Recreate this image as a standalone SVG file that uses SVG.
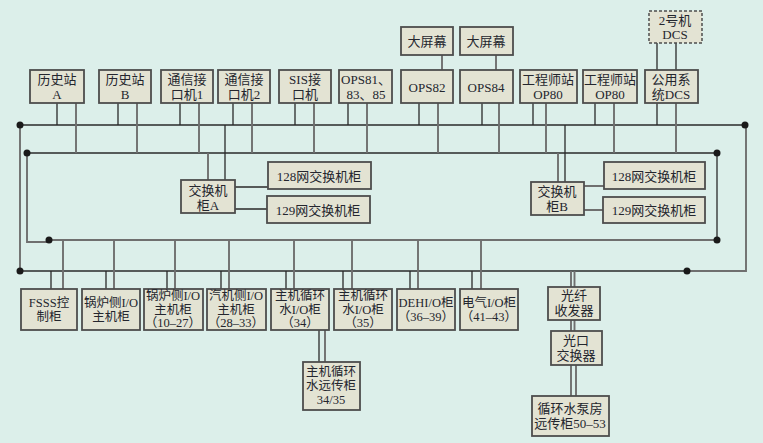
<svg xmlns="http://www.w3.org/2000/svg" width="763" height="443" viewBox="0 0 763 443">
<style>
.bg{fill:#dcefea}
.bx rect{fill:#e3e3d3;stroke:#4d4d4d;stroke-width:1.8}
.bx.dash rect{stroke-dasharray:3 2;stroke-width:1.5}
text{font-family:"Liberation Serif","Noto Sans CJK SC",serif;font-size:13px;fill:#24262e;text-anchor:middle}
.sm text{font-size:12.5px}
.k{stroke:#2a2a2a;stroke-width:1.3;fill:none}
.g{stroke:#6f6f6f;stroke-width:1.9;fill:none}
.dot{fill:#1a1a1a}
</style>
<rect class="bg" x="0" y="0" width="763" height="443"/>
<g id="connectors">
<path class="k" d="M20 125H745"/>
<path class="g" d="M20 125V271"/>
<path class="k" d="M20 271H687"/>
<path class="g" d="M746 125V271H687"/>
<path class="k" d="M27 153H717"/>
<path class="g" d="M27 153V242H49"/>
<path class="k" d="M717 153V240"/>
<path class="g" d="M49 240H717"/>
<path class="k" d="M57 103V125M118 103V125M180 103V125M233 103V125M295 103V125M348 103V125M419 103V125M482 103V125M533 103V125M595 103V125M657 103V125"/>
<path class="g" d="M76 103V153M137 103V153M199 103V153M252 103V153M314 103V153M367 103V153M438 103V153M499 103V153M546 103V153M614 103V153M676 103V153"/>
<path class="k" d="M657 43V70M676 43V70"/>
<path class="g" d="M442 55V70M496 55V70"/>
<path class="k" d="M225 125V180M565 125V182"/>
<path class="g" d="M208 153V180M558 153V182"/>
<path class="k" d="M235 187H268M235 209H267"/>
<path class="g" d="M584 186H604M584 210H603"/>
<path class="k" d="M51 271V289M106 271V289M167 271V289M221 271V289M286 271V289M343 271V289M410 271V289M472 271V289"/>
<path class="g" d="M63 240V289M114 240V289M175 240V289M229 240V289M294 240V289M352 240V289M418 240V289M481 240V289"/>
<path class="g" d="M571 271V287M574.5 271V287M571 320V331M574.5 320V331M571 365V396M576 365V396"/>
<path class="k" d="M319 330V362"/>
<path class="g" d="M325 330V362"/>
<circle class="dot" cx="20" cy="125" r="3.5"/>
<circle class="dot" cx="745" cy="125" r="3.5"/>
<circle class="dot" cx="20" cy="271" r="3.5"/>
<circle class="dot" cx="687" cy="271" r="3.5"/>
<circle class="dot" cx="27" cy="153" r="3.5"/>
<circle class="dot" cx="717" cy="153" r="3.5"/>
<circle class="dot" cx="49" cy="240" r="3.5"/>
<circle class="dot" cx="717" cy="240" r="3.5"/>
</g>
<g id="hisA" class="bx"><rect x="30" y="70" width="54" height="33"/><text x="57" y="84">历史站</text><text x="57" y="99">A</text></g>
<g id="hisB" class="bx"><rect x="99" y="70" width="52" height="33"/><text x="125" y="84">历史站</text><text x="125" y="99">B</text></g>
<g id="com1" class="bx"><rect x="161" y="70" width="52" height="33"/><text x="187" y="84">通信接</text><text x="187" y="99">口机1</text></g>
<g id="com2" class="bx"><rect x="218" y="70" width="52" height="33"/><text x="244" y="84">通信接</text><text x="244" y="99">口机2</text></g>
<g id="sis" class="bx"><rect x="279" y="70" width="52" height="33"/><text x="305" y="84">SIS接</text><text x="305" y="99">口机</text></g>
<g id="ops81" class="bx"><rect x="339" y="70" width="53" height="33"/><text x="366" y="84">OPS81、</text><text x="366" y="99">83、85</text></g>
<g id="ops82" class="bx"><rect x="401" y="70" width="52" height="33"/><text x="427" y="92">OPS82</text></g>
<g id="screen1" class="bx"><rect x="401" y="27" width="52" height="28"/><text x="427" y="46">大屏幕</text></g>
<g id="ops84" class="bx"><rect x="460" y="70" width="53" height="33"/><text x="486" y="92">OPS84</text></g>
<g id="screen2" class="bx"><rect x="460" y="27" width="53" height="28"/><text x="486" y="46">大屏幕</text></g>
<g id="eng1" class="bx"><rect x="520" y="70" width="57" height="33"/><text x="548" y="84">工程师站</text><text x="548" y="99">OP80</text></g>
<g id="eng2" class="bx"><rect x="583" y="70" width="54" height="33"/><text x="610" y="84">工程师站</text><text x="610" y="99">OP80</text></g>
<g id="pubdcs" class="bx"><rect x="645" y="70" width="53" height="33"/><text x="671" y="84">公用系</text><text x="671" y="99">统DCS</text></g>
<g id="dcs2" class="bx dash"><rect x="649" y="11" width="53" height="32"/><text x="675" y="25">2号机</text><text x="675" y="39">DCS</text></g>
<g id="swA" class="bx"><rect x="181" y="180" width="54" height="33"/><text x="208" y="195">交换机</text><text x="208" y="210">柜A</text></g>
<g id="sw128A" class="bx"><rect x="268" y="162" width="103" height="27"/><text x="319" y="181">128网交换机柜</text></g>
<g id="sw129A" class="bx"><rect x="267" y="196" width="103" height="27"/><text x="318" y="215">129网交换机柜</text></g>
<g id="swB" class="bx"><rect x="531" y="182" width="53" height="33"/><text x="557" y="196">交换机</text><text x="557" y="211">柜B</text></g>
<g id="sw128B" class="bx"><rect x="604" y="162" width="101" height="27"/><text x="654" y="181">128网交换机柜</text></g>
<g id="sw129B" class="bx"><rect x="603" y="197" width="102" height="26"/><text x="654" y="215">129网交换机柜</text></g>
<g class="sm">
<g id="fsss" class="bx"><rect x="21" y="289" width="56" height="41"/><text x="49" y="307">FSSS控</text><text x="49" y="321">制柜</text></g>
<g id="boiler" class="bx"><rect x="82" y="289" width="58" height="41"/><text x="111" y="307">锅炉侧I/O</text><text x="111" y="321">主机柜</text></g>
<g id="boiler2" class="bx"><rect x="144" y="289" width="59" height="41"/><text x="173" y="300">锅炉侧I/O</text><text x="173" y="314">主机柜</text><text x="173" y="327">（10–27）</text></g>
<g id="turb" class="bx"><rect x="207" y="289" width="59" height="41"/><text x="236" y="300">汽机侧I/O</text><text x="236" y="314">主机柜</text><text x="236" y="327">（28–33）</text></g>
<g id="cw34" class="bx"><rect x="271" y="289" width="58" height="41"/><text x="300" y="300">主机循环</text><text x="300" y="314">水I/O柜</text><text x="300" y="327">（34）</text></g>
<g id="cw35" class="bx"><rect x="334" y="289" width="58" height="41"/><text x="363" y="300">主机循环</text><text x="363" y="314">水I/O柜</text><text x="363" y="327">（35）</text></g>
<g id="deh" class="bx"><rect x="397" y="289" width="58" height="41"/><text x="426" y="307">DEHI/O柜</text><text x="426" y="321">（36–39）</text></g>
<g id="elec" class="bx"><rect x="460" y="289" width="58" height="41"/><text x="489" y="307">电气I/O柜</text><text x="489" y="321">（41–43）</text></g>
<g id="remote" class="bx"><rect x="303" y="362" width="57" height="48"/><text x="331" y="376">主机循环</text><text x="331" y="390">水远传柜</text><text x="331" y="404">34/35</text></g>
</g>
<g id="fiber" class="bx"><rect x="548" y="287" width="52" height="33"/><text x="574" y="300">光纤</text><text x="574" y="315">收发器</text></g>
<g id="optsw" class="bx"><rect x="551" y="331" width="51" height="34"/><text x="576" y="345">光口</text><text x="576" y="360">交换器</text></g>
<g id="pump" class="bx"><rect x="532" y="396" width="77" height="40"/><text x="570" y="413">循环水泵房</text><text x="570" y="428">远传柜50–53</text></g>
</svg>
